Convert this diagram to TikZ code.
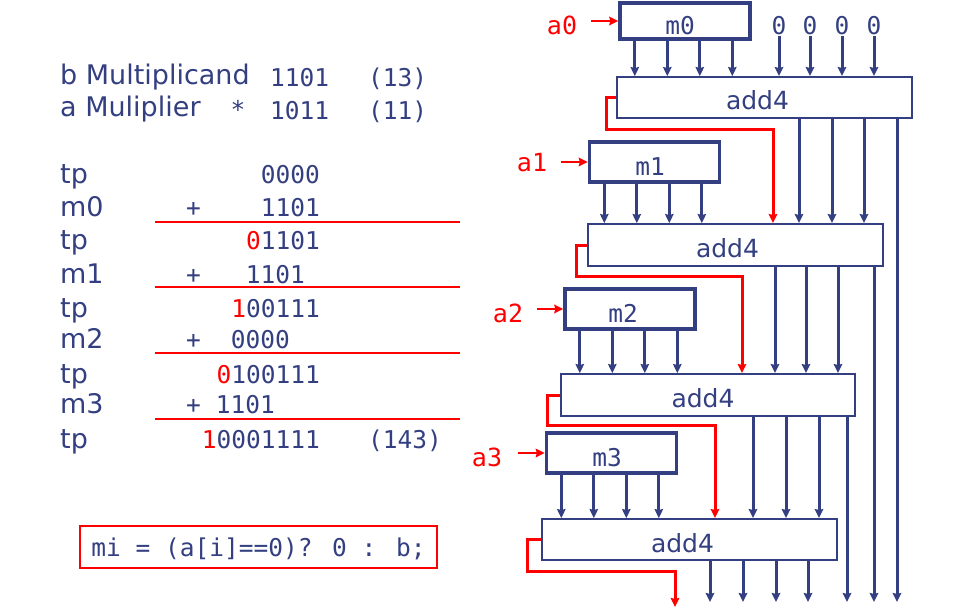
\documentclass[tikz,border=0pt]{standalone}
\usepackage{fontspec}
\setmainfont{DejaVu Sans}
\newfontfamily\monof{DejaVu Sans Mono}
\usetikzlibrary{arrows.meta,calc}
\definecolor{navy}{RGB}{51,63,128}
\begin{document}
\begin{tikzpicture}[x=1pt,y=-1pt,
  sansT/.style={font=\fontsize{27}{30}\selectfont, text=navy, inner sep=0pt, anchor=base west},
  monoT/.style={font=\monof\fontsize{24.5}{28}\selectfont, text=navy, inner sep=0pt},
  redT/.style={font=\monof\fontsize{25}{28}\selectfont, text=red, inner sep=0pt},
  barrow/.style={draw=navy, line width=3pt, -{Stealth[length=9pt,width=8.5pt,inset=1pt]}},
  rarrow/.style={draw=red, line width=2.8pt, -{Stealth[length=9pt,width=8.5pt,inset=1pt]}},
  rule/.style={draw=red, line width=1.8pt},
  mbox/.style={draw=navy, line width=3.4pt, fill=white, minimum width=130pt, minimum height=40pt,
    inner sep=0pt, text height=27pt, text depth=0pt, font=\monof\fontsize{24.5}{28}\selectfont, text=navy},
  abox/.style={draw=navy, line width=1.9pt, fill=white, minimum width=295pt, minimum height=42pt,
    inner sep=0pt, text height=25pt, text depth=0pt, font=\fontsize{25}{28}\selectfont, text=navy}
]
\useasboundingbox (0,0) rectangle (960,612);
\coordinate (bot) at (0,602);

% ---------- left: header ----------
\node[sansT] (lb) at (60,85) {b Multiplicand};
\node[sansT] (la) at (60,117) {a Muliplier};
\node[monoT, anchor=base] (star) at (238,119) {*};
\node[monoT, anchor=base west] (nb) at (270,87) {1101};
\node[monoT, anchor=base west] (na) at (270,120) {1011};
\node[monoT, anchor=base west] (n13) at (368,87) {(13)};
\node[monoT, anchor=base west] (n11) at (368,120) {(11)};

% ---------- left: rows ----------
\node[sansT] (r1) at (60,184) {tp};
\node[sansT] (r2) at (60,217) {m0};
\node[sansT] (r3) at (60,250) {tp};
\node[sansT] (r4) at (60,283) {m1};
\node[sansT] (r5) at (60,317) {tp};
\node[sansT] (r6) at (60,348) {m2};
\node[sansT] (r7) at (60,383) {tp};
\node[sansT] (r8) at (60,413) {m3};
\node[sansT] (r9) at (60,448) {tp};

\node[monoT, anchor=base east] (v1) at (320,184) {0000};
\node[monoT, anchor=base] (p2) at (193.5,217) {+};
\node[monoT, anchor=base east] (v2) at (320,217) {1101};
\node[monoT, anchor=base east] (v3) at (320,250) {{\color{red}0}1101};
\node[monoT, anchor=base] (p4) at (193.5,283) {+};
\node[monoT, anchor=base east] (v4) at (305,283) {1101};
\node[monoT, anchor=base east] (v5) at (320,317) {{\color{red}1}00111};
\node[monoT, anchor=base] (p6) at (193.5,348) {+};
\node[monoT, anchor=base east] (v6) at (290,348) {0000};
\node[monoT, anchor=base east] (v7) at (320,383) {{\color{red}0}100111};
\node[monoT, anchor=base] (p8) at (193.5,413) {+};
\node[monoT, anchor=base east] (v8) at (275,413) {1101};
\node[monoT, anchor=base east] (v9) at (320,448) {{\color{red}1}0001111};
\node[monoT, anchor=base west] (n143) at (368,448) {(143)};

\draw[rule] (155,222) -- (460,222);
\draw[rule] (155,287) -- (460,287);
\draw[rule] (155,353) -- (460,353);
\draw[rule] (155,419) -- (460,419);

\node[draw=red, line width=1.8pt, minimum width=357pt, minimum height=42pt, inner sep=0pt,
  text height=19pt, text depth=0pt, font=\monof\fontsize{24.5}{28}\selectfont, text=navy]
  (mi) at (258.5,547) {mi = (a[i]==0)? 0 : b;};

% ---------- right: circuit ----------
\node[mbox, minimum height=36pt] (M0) at (685,21) {m0\kern10pt};
\node[mbox] (M1) at (654.5,162) {m1\kern9pt};
\node[mbox] (M2) at (630,309) {m2\kern14pt};
\node[mbox] (M3) at (611.5,453) {m3\kern9pt};

\node[abox, minimum height=41pt] (A1) at (764.5,97.5) {add4\kern14pt};
\node[abox] (A2) at (735.5,245) {add4\kern16pt};
\node[abox, minimum width=294pt] (A3) at (708,395) {add4\kern10pt};
\node[abox, minimum height=41pt] (A4) at (689.5,539.5) {add4\kern14pt};

% a inputs
\node[redT] (La0) at (562,25) {a0};
\node[redT] (La1) at (532,163) {a1};
\node[redT] (La2) at (508,313) {a2};
\node[redT] (La3) at (487,457) {a3};
\draw[rarrow] ($(M0.west)+(-27,0)$) -- (M0.west);
\draw[rarrow] ($(M1.west)+(-26.5,0)$) -- (M1.west);
\draw[rarrow] ($(M2.west)+(-26.5,0)$) -- (M2.west);
\draw[rarrow] ($(M3.west)+(-26.5,0)$) -- (M3.west);

% zeros
\node[monoT, anchor=base] (z1) at (779,35) {0};
\node[monoT, anchor=base] (z2) at (810,35) {0};
\node[monoT, anchor=base] (z3) at (842,35) {0};
\node[monoT, anchor=base] (z4) at (874,35) {0};
\foreach \zz in {z1,z2,z3,z4}
  \draw[barrow] (\zz.south) -- (\zz.south |- A1.north);

% m -> add arrows
\foreach \bx/\ad in {M0/A1,M1/A2,M2/A3,M3/A4}{
  \foreach \k in {0,...,3}{
    \coordinate (\bx o\k) at ($(\bx.south west)+({16.5+32.5*\k},0)$);
    \draw[barrow] (\bx o\k) -- (\bx o\k |- \ad.north);
  }
}

% sum bits between adders
\foreach \x in {799,832,864} \draw[barrow] (\x,0 |- A1.south) -- (\x,0 |- A2.north);
\foreach \x in {775,806,838} \draw[barrow] (\x,0 |- A2.south) -- (\x,0 |- A3.north);
\foreach \x in {753,786,819} \draw[barrow] (\x,0 |- A3.south) -- (\x,0 |- A4.north);
\draw[barrow] (897,0 |- A1.south) -- (897,0 |- bot);
\draw[barrow] (874,0 |- A2.south) -- (874,0 |- bot);
\draw[barrow] (847,0 |- A3.south) -- (847,0 |- bot);
\foreach \x in {710,743,776,808} \draw[barrow] (\x,0 |- A4.south) -- (\x,0 |- bot);

% carries
\coordinate (cout) at (675,607);
\draw[rarrow, line width=3pt] (A1.west) -- ++(-10,0) |- (773,130) -- (773,0 |- A2.north);
\draw[rarrow, line width=3pt] (A2.west) -- ++(-11,0) |- (742,276) -- (742,0 |- A3.north);
\draw[rarrow, line width=3pt] (A3.west) -- ++(-13,0) |- (715,425) -- (715,0 |- A4.north);
\draw[rarrow, line width=3pt] (A4.west) -- ++(-14,0) |- (675,571) -- (cout);
\end{tikzpicture}
\end{document}
